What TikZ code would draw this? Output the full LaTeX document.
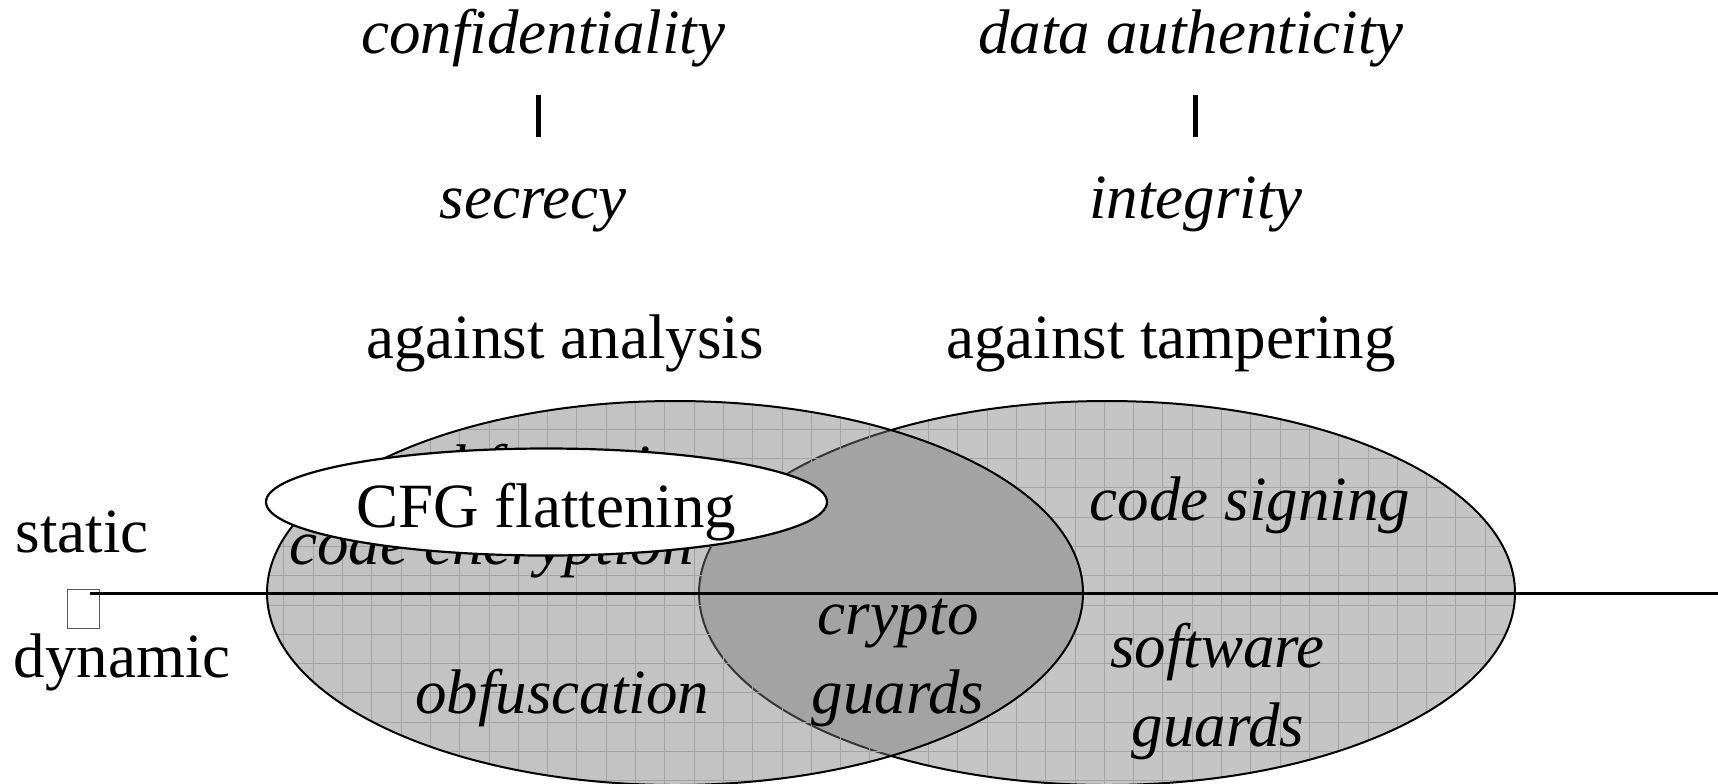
\documentclass[tikz,border=0pt]{standalone}
\usepackage{fontspec}
\setmainfont{Liberation Serif}
\usetikzlibrary{shapes.geometric}
\definecolor{lightfill}{RGB}{197,197,197}
\definecolor{overlayfill}{RGB}{122,122,122}
\definecolor{gridgray}{RGB}{163,163,163}
\definecolor{boxgray}{RGB}{90,90,90}
\begin{document}
\begin{tikzpicture}[x=0.5pt,y=-0.5pt,
  lbl/.style={anchor=base, inner sep=0pt, font=\fontsize{31.5}{38}\selectfont},
  ilbl/.style={anchor=base, inner sep=0pt, font=\fontsize{31.5}{38}\selectfont\itshape},
  gridline/.style={draw=gridgray, line width=0.45pt},
  outline/.style={draw=black, line width=1pt},
  barline/.style={line width=2.5pt},
  axisline/.style={line width=1.5pt}]
\useasboundingbox (0,0) rectangle (1718,783);

% right ellipse (against tampering)
\fill[lightfill] (1107,593) ellipse [x radius=204pt, y radius=96pt];
\begin{scope}
  \clip (1107,593) ellipse [x radius=204pt, y radius=96pt];
  \foreach \i in {8,...,53} {\draw[gridline] ({20.2+29.3*\i},380) -- ({20.2+29.3*\i},800);}
  \foreach \j in {12,...,27} {\draw[gridline] (230,{19+29.3*\j}) -- (1560,{19+29.3*\j});}
\end{scope}
\draw[outline] (1107,593) ellipse [x radius=204pt, y radius=96pt];

% left ellipse (against analysis), translucent so the overlap is darker
\fill[overlayfill, fill opacity=0.45] (675,593) ellipse [x radius=204pt, y radius=96pt];
\begin{scope}
  \clip (675,593) ellipse [x radius=204pt, y radius=96pt];
  \foreach \i in {8,...,53} {\draw[gridline] ({20.2+29.3*\i},380) -- ({20.2+29.3*\i},800);}
  \foreach \j in {12,...,27} {\draw[gridline] (230,{19+29.3*\j}) -- (1560,{19+29.3*\j});}
\end{scope}
\draw[outline] (675,593) ellipse [x radius=204pt, y radius=96pt];

% texts partly hidden under the CFG ellipse
\node[ilbl] (hidden) at (567,488) {obfuscation};
\node[ilbl] (enc) at (491.5,564) {code encryption};

% CFG flattening
\node[ellipse, draw=black, fill=white, line width=1.1pt, inner sep=0pt,
      minimum width=280.5pt, minimum height=53.5pt] (cfgshape) at (546.5,502) {};
\node[lbl] (cfg) at (546.5,527) {CFG flattening};

% static / dynamic divider
\node[draw=boxgray, line width=0.5pt, inner sep=0pt, minimum width=16pt, minimum height=19.5pt] (box) at (83,608.5) {};
\coordinate (ls) at (90,593);
\coordinate (le) at (1718,593);
\draw[axisline] (ls) -- (le);

% labels inside ellipses
\node[ilbl] (sign) at (1250,520) {code signing};
\node[ilbl] (soft) at (1217.5,667) {software};
\node[ilbl] (sguards) at (1218,746) {guards};
\node[ilbl] (crypto) at (898,634) {crypto};
\node[ilbl] (cguards) at (898,713) {guards};
\node[ilbl] (obf) at (562,713) {obfuscation};

% left labels
\node[lbl] (static) at (82,552) {static};
\node[lbl] (dynamic) at (122,677) {dynamic};

% column headings
\node[lbl] (analysis) at (565,358) {against analysis};
\node[lbl] (tamper) at (1171,358) {against tampering};

\node[ilbl] (conf) at (543,53) {confidentiality};
\node[ilbl] (secr) at (533,218) {secrecy};
\node[ilbl] (auth) at (1191,53) {data authenticity};
\node[ilbl] (integ) at (1196,218) {integrity};

\coordinate (b1a) at (538.7,95);
\coordinate (b1b) at (538.7,137);
\coordinate (b2a) at (1195,95);
\coordinate (b2b) at (1195,137);
\draw[barline] (b1a) -- (b1b);
\draw[barline] (b2a) -- (b2b);
\end{tikzpicture}
\end{document}
